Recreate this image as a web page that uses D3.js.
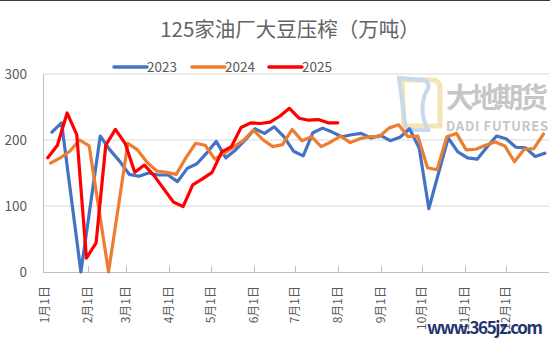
<!DOCTYPE html>
<html><head><meta charset="utf-8">
<script src="https://cdn.jsdelivr.net/npm/d3@7"></script>
<style>
html,body{margin:0;padding:0;background:#fff;}
svg{display:block;}
text{font-family:"Noto Sans CJK SC","Noto Sans",sans-serif;}
</style></head>
<body>
<script>
// ---- data ----
const title = "125家油厂大豆压榨（万吨）";
const seriesNames = ["2023", "2024", "2025"];
const seriesColors = ["#4472C4", "#ED7D31", "#FF0000"];
const seriesStart = ["2023-01-06", "2024-01-05", "2025-01-03"]; // first weekly (Friday) observation
const values2023 = [212,226,113,0,103,206,185,168,148,145,150,147,147,137,157,164,180,198,173,185,200,217,210,220,205,183,176,211,218,212,205,208,210,203,207,199,204,217,188,96,150,203,182,173,171,189,206,202,189,188,175,180];
const values2024 = [165,173,183,200,191,96,0,97,195,185,166,153,151,148,173,195,192,171,180,190,200,215,200,190,193,216,199,205,190,197,206,196,202,205,205,218,223,205,206,158,155,205,210,185,186,192,197,191,167,186,187,209];
const values2025 = [173,192,241,208,21,44,192,216,195,151,162,146,126,106,99,132,141,151,182,190,219,226,225,227,236,248,233,230,231,226,226];
const yTicks = [0,100,200,300];
const monthLabels = ["1月1日","2月1日","3月1日","4月1日","5月1日","6月1日","7月1日","8月1日","9月1日","10月1日","11月1日","12月1日"];

const W = 550, H = 341;
const svg = d3.select("body").append("svg").attr("width", W).attr("height", H);
svg.append("rect").attr("width", W).attr("height", H).attr("fill", "#fff");
svg.append("line").attr("x1",0).attr("x2",W).attr("y1",0.5).attr("y2",0.5).attr("stroke","#3a3a3a").attr("stroke-width",1);

const DAY = 86400000;
function dayOfYear(d){ return (d - new Date(d.getFullYear(),0,1)) / DAY; }
const x = d3.scaleLinear().domain([0, 365]).range([45, 549]);
const y = d3.scaleLinear().domain([0, 300]).range([272, 74]);

// gridlines
svg.append("g").selectAll("line").data(yTicks.filter(v=>v>0)).join("line")
  .attr("x1", 43).attr("x2", 549).attr("y1", d=>y(d)).attr("y2", d=>y(d))
  .attr("stroke", "#d9d9d9").attr("stroke-width", 1);

// y axis line
svg.append("line").attr("x1",43.5).attr("x2",43.5).attr("y1",y(300)).attr("y2",y(0)).attr("stroke","#bfbfbf");
// y labels
svg.append("g").selectAll("text").data(yTicks).join("text")
  .attr("x", 27).attr("y", d=>y(d)).attr("dy","0.35em").attr("text-anchor","end")
  .attr("font-size", 13.5).attr("fill","#595959").text(d=>d);

// watermark logo
const logo = svg.append("g");
logo.append("path").attr("d","M402,80 L432,80 Q440,80 440,88 L440,126 L404,126 Z")
  .attr("fill","none").attr("stroke","#f3e5b5").attr("stroke-width",5);
logo.append("path").attr("d","M399,78 L406,130 L428,130 Q418,110 426,92 Q432,84 424,80 Z")
  .attr("fill","none").attr("stroke","#c9d9ec").attr("stroke-width",4);
logo.append("text").attr("x",446).attr("y",108).attr("font-size",28).attr("font-weight",700)
  .attr("fill","#c6c6c6").attr("textLength",102).text("大地期货");
logo.append("text").attr("x",446).attr("y",131).attr("font-size",13).attr("font-weight",700)
  .attr("fill","#c6c6c6").attr("textLength",102).attr("font-family","Lato, 'Open Sans', sans-serif").text("DADI FUTURES");

// x axis
svg.append("line").attr("x1",43).attr("x2",549).attr("y1",272.5).attr("y2",272.5).attr("stroke","#bfbfbf");
const monthDays = monthLabels.map((_,i)=>dayOfYear(new Date(2023,i,1)));
svg.append("g").selectAll("line").data(monthDays.slice(1)).join("line")
  .attr("x1",d=>Math.round(x(d))+0.5).attr("x2",d=>Math.round(x(d))+0.5).attr("y1",266).attr("y2",272)
  .attr("stroke","#bfbfbf");
svg.append("g").selectAll("text").data(monthLabels).join("text")
  .attr("transform",(d,i)=>`translate(${x(monthDays[i])+4},286) rotate(-90)`)
  .attr("text-anchor","end").attr("font-size",12).attr("fill","#595959").text(d=>d);

// lines
const allValues = [values2023, values2024, values2025];
const line = d3.line().x(d=>x(d.day)).y(d=>y(d.v));
allValues.forEach((vals, si) => {
  const start = new Date(seriesStart[si] + "T00:00:00");
  const pts = vals.map((v,i)=>{ const dt = new Date(start.getTime() + i*7*DAY); return {day: dayOfYear(dt), v}; });
  svg.append("path").datum(pts).attr("d", line).attr("fill","none")
    .attr("stroke", seriesColors[si]).attr("stroke-width", 3.2)
    .attr("stroke-linejoin","round").attr("stroke-linecap","round");
});

// title
svg.append("text").attr("x", 290).attr("y", 37).attr("text-anchor","middle")
  .attr("font-size", 20.5).attr("fill","#636363").text(title);

// legend
const leg = svg.append("g");
const legX = [114, 192, 269];
seriesNames.forEach((n,i)=>{
  leg.append("line").attr("x1",legX[i]).attr("x2",legX[i]+33).attr("y1",67).attr("y2",67)
    .attr("stroke",seriesColors[i]).attr("stroke-width",3.5).attr("stroke-linecap","round");
  leg.append("text").attr("x",legX[i]+33).attr("y",67).attr("dy","0.36em")
    .attr("font-size",13.5).attr("fill","#595959").text(n);
});

// site watermark
svg.append("text").attr("x",427).attr("y",334).attr("font-size",17).attr("font-weight",700)
  .attr("font-family","'DejaVu Serif','Liberation Serif',serif").attr("fill","#1f3470")
  .attr("textLength",116).text("www.365jz.com");
</script>
</body></html>
